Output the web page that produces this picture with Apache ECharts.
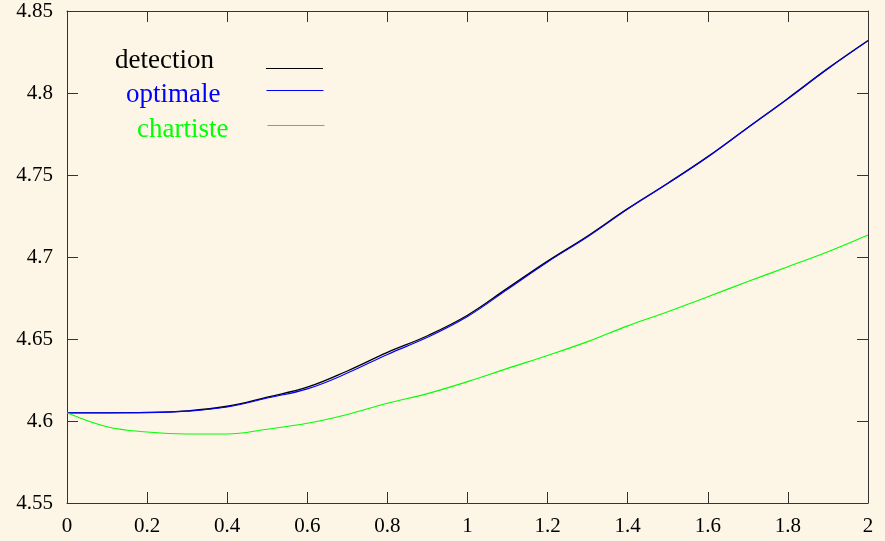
<!DOCTYPE html>
<html>
<head>
<meta charset="utf-8">
<script src="https://cdn.jsdelivr.net/npm/echarts@6/dist/echarts.min.js"></script>
<style>
  html, body { margin: 0; padding: 0; background: #fdf5e6; }
  #chart { width: 885px; height: 541px; }
</style>
</head>
<body>
<div id="chart"></div>
<script>
// x positions (horizontal axis)
const xs = [0, 0.1, 0.2, 0.3, 0.4, 0.5, 0.6, 0.7, 0.8, 0.9, 1.0,
            1.1, 1.2, 1.3, 1.4, 1.5, 1.6, 1.7, 1.8, 1.9, 2.0];
// series values
const detection = [4.6050, 4.6050, 4.6052, 4.6062, 4.6090, 4.6146, 4.6206, 4.6305, 4.6418, 4.6520, 4.6645,
                   4.6810, 4.6975, 4.7128, 4.7295, 4.7450, 4.7612, 4.7790, 4.7967, 4.8150, 4.8320];
const optimale  = [4.6050, 4.6050, 4.6051, 4.6060, 4.6085, 4.6140, 4.6196, 4.6292, 4.6406, 4.6510, 4.6637,
                   4.6803, 4.6970, 4.7123, 4.7292, 4.7448, 4.7610, 4.7788, 4.7965, 4.8148, 4.8318];
const chartiste = [4.6050, 4.5965, 4.5933, 4.5921, 4.5921, 4.5950, 4.5986, 4.6040, 4.6108, 4.6167, 4.6240,
                   4.6321, 4.6400, 4.6484, 4.6580, 4.6666, 4.6758, 4.6850, 4.6941, 4.7032, 4.7134];
const seriesNames = ['detection', 'optimale', 'chartiste'];

const pair = arr => xs.map((x, i) => [x, arr[i]]);
const FONT = 'Liberation Serif';
const AX = '#333333';

const chart = echarts.init(document.getElementById('chart'));
const baseX = {
  type: 'value', min: 0, max: 2, interval: 0.2,
  axisLine: { show: true, onZero: false, lineStyle: { color: AX, width: 1 } },
  axisTick: { show: true, inside: true, length: 11, lineStyle: { color: AX } },
  splitLine: { show: false }
};
const baseY = {
  type: 'value', min: 4.55, max: 4.85, interval: 0.05,
  axisLine: { show: true, onZero: false, lineStyle: { color: AX, width: 1 } },
  axisTick: { show: true, inside: true, length: 11, lineStyle: { color: AX } },
  splitLine: { show: false }
};
function legendFor(name, color, left, top, padRight, vPad) {
  return {
    data: [name], left: left, top: top, orient: 'vertical', align: 'right',
    padding: 0, icon: 'rect', itemWidth: 57, itemHeight: 1,
    selectedMode: false,
    formatter: '{t|{name}}',
    textStyle: {
      color: color, fontFamily: FONT, fontSize: 27, lineHeight: 28, padding: [0, padRight, 0, 0],
      rich: { t: { color: color, fontFamily: FONT, fontSize: 27, lineHeight: 28, padding: vPad } }
    }
  };
}
chart.setOption({
  backgroundColor: '#fdf5e6',
  animation: false,
  grid: { left: 67, right: 17, top: 11, bottom: 38, containLabel: false },
  legend: [
    legendFor(seriesNames[0], '#000000', 115, 47, 47, [0, 0, 16, 0]),
    legendFor(seriesNames[1], '#0000ff', 126, 73, 41, [8, 0, 0, 0]),
    legendFor(seriesNames[2], '#00ff00', 137, 108, 34, [8, 0, 0, 0])
  ],
  xAxis: [
    Object.assign({}, baseX, { position: 'bottom',
      axisLabel: { show: true, margin: 13, color: '#000', fontFamily: FONT, fontSize: 21 } }),
    Object.assign({}, baseX, { position: 'top', axisLabel: { show: false } })
  ],
  yAxis: [
    Object.assign({}, baseY, { position: 'left',
      axisLabel: { show: true, margin: 14, color: '#000', fontFamily: FONT, fontSize: 21 } }),
    Object.assign({}, baseY, { position: 'right', axisLabel: { show: false } })
  ],
  series: [
    { name: seriesNames[0], type: 'line', data: pair(detection), showSymbol: false, symbol: 'none',
      smooth: 0.4, lineStyle: { color: '#000000', width: 1.3 }, itemStyle: { color: '#000000' } },
    { name: seriesNames[1], type: 'line', data: pair(optimale), showSymbol: false, symbol: 'none',
      smooth: 0.4, lineStyle: { color: '#0000ff', width: 1.1 }, itemStyle: { color: '#0000ff' } },
    { name: seriesNames[2], type: 'line', data: pair(chartiste), showSymbol: false, symbol: 'none',
      smooth: 0.4, lineStyle: { color: '#00ff00', width: 1.1 }, itemStyle: { color: '#00ff00' } }
  ]
});
</script>
</body>
</html>
